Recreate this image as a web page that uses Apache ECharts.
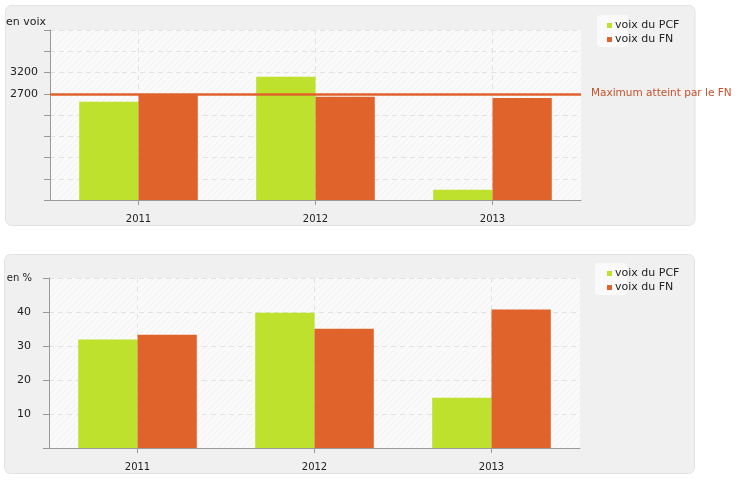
<!DOCTYPE html>
<html>
<head>
<meta charset="utf-8">
<script src="https://cdn.jsdelivr.net/npm/echarts@6/dist/echarts.min.js"></script>
<style>
html,body{margin:0;padding:0;background:#fff;}
#c{width:740px;height:487px;}
</style>
</head>
<body>
<div id="c"></div>
<script>
const categories = ['2011', '2012', '2013'];
const pcfVoix = [2510, 3100, 440];
const fnVoix = [2690, 2630, 2600];
const fnMaximum = 2700;
const voixTickLabels = [2700, 3200];
const pcfPct = [31.9, 39.8, 14.8];
const fnPct = [33.3, 35.1, 40.7];
const pctTickLabels = [10, 20, 30, 40];
const seriesNames = ['voix du PCF', 'voix du FN'];

const GREEN = '#bde12d';
const ORANGE = '#e0632c';
const FONT = 'DejaVu Sans';

// subtle diagonal hatching for the plot background
const pc = document.createElement('canvas');
pc.width = 6; pc.height = 6;
const pctx = pc.getContext('2d');
pctx.fillStyle = '#fafafa'; pctx.fillRect(0, 0, 6, 6);
pctx.strokeStyle = '#f1f1f1'; pctx.lineWidth = 1;
pctx.beginPath(); pctx.moveTo(0, 6); pctx.lineTo(6, 0); pctx.stroke();
pctx.beginPath(); pctx.moveTo(-3, 3); pctx.lineTo(3, -3); pctx.stroke();
pctx.beginPath(); pctx.moveTo(3, 9); pctx.lineTo(9, 3); pctx.stroke();
const plotBg = {image: pc, repeat: 'repeat'};

const chart = echarts.init(document.getElementById('c'), null, {renderer: 'canvas'});

function xAxisCfg(gridIndex) {
  return {
    type: 'category', gridIndex: gridIndex, data: categories,
    axisLine: {lineStyle: {color: '#999', width: 1}},
    axisTick: {show: true, alignWithLabel: true, length: 5, lineStyle: {color: '#999'}},
    axisLabel: {color: '#222', fontFamily: FONT, fontSize: 10, margin: 14},
    splitLine: {show: true, alignWithLabel: true, lineStyle: {color: '#e2e2e2', type: [5, 4]}}
  };
}

const option = {
  animation: false,
  textStyle: {fontFamily: FONT},
  graphic: [
    {type: 'rect', z: -10, shape: {x: 5.5, y: 5.5, width: 689.5, height: 220, r: 6}, style: {fill: '#f0f0f0', stroke: '#e3e3e3', lineWidth: 1}},
    {type: 'rect', z: -10, shape: {x: 4.5, y: 254.5, width: 690, height: 219, r: 6}, style: {fill: '#f0f0f0', stroke: '#e3e3e3', lineWidth: 1}},
    {type: 'rect', z: -5, shape: {x: 597, y: 15, width: 31, height: 32, r: 4}, style: {fill: '#fafafa'}},
    {type: 'rect', z: -5, shape: {x: 595, y: 263, width: 32, height: 32, r: 4}, style: {fill: '#fafafa'}}
  ],
  legend: [
    {data: seriesNames, orient: 'vertical', left: 602, top: 15, icon: 'rect', itemWidth: 5, itemHeight: 5, itemGap: 3,
      textStyle: {fontSize: 11, color: '#222', fontFamily: FONT, padding: [0, 0, 0, -2]}},
    {data: seriesNames, orient: 'vertical', left: 602, top: 263, icon: 'rect', itemWidth: 5, itemHeight: 5, itemGap: 3,
      textStyle: {fontSize: 11, color: '#222', fontFamily: FONT, padding: [0, 0, 0, -2]}}
  ],
  grid: [
    {left: 50, top: 30, width: 531, height: 170, show: true, backgroundColor: plotBg, borderWidth: 0},
    {left: 49, top: 278, width: 531, height: 170, show: true, backgroundColor: plotBg, borderWidth: 0}
  ],
  xAxis: [xAxisCfg(0), xAxisCfg(1)],
  yAxis: [
    {
      type: 'value', gridIndex: 0, min: 200, max: 4200, interval: 500,
      name: 'en voix', nameLocation: 'end', nameGap: 2,
      nameTextStyle: {align: 'right', verticalAlign: 'bottom', color: '#222', fontSize: 11, fontFamily: FONT, padding: [0, 4, 0, 0]},
      axisLine: {show: true, lineStyle: {color: '#999'}},
      axisTick: {show: true, length: 6, lineStyle: {color: '#999'}},
      axisLabel: {color: '#222', fontSize: 11, fontFamily: FONT, margin: 12,
        formatter: v => voixTickLabels.indexOf(v) >= 0 ? String(v) : ''},
      splitLine: {show: true, lineStyle: {color: '#e2e2e2', type: [5, 4]}}
    },
    {
      type: 'value', gridIndex: 1, min: 0, max: 50, interval: 10,
      name: 'en %', nameLocation: 'end', nameGap: 0,
      nameTextStyle: {align: 'right', verticalAlign: 'middle', color: '#222', fontSize: 10, fontFamily: FONT, padding: [0, 17, 0, 0]},
      axisLine: {show: true, lineStyle: {color: '#999'}},
      axisTick: {show: true, length: 6, lineStyle: {color: '#999'}},
      axisLabel: {color: '#222', fontSize: 11, fontFamily: FONT, margin: 18,
        formatter: v => pctTickLabels.indexOf(v) >= 0 ? String(v) : ''},
      splitLine: {show: true, lineStyle: {color: '#e2e2e2', type: [5, 4]}}
    }
  ],
  series: [
    {name: seriesNames[0], type: 'bar', xAxisIndex: 0, yAxisIndex: 0, data: pcfVoix, barGap: 0, barCategoryGap: '33%', itemStyle: {color: GREEN}},
    {name: seriesNames[1], type: 'bar', xAxisIndex: 0, yAxisIndex: 0, data: fnVoix, barGap: 0, barCategoryGap: '33%', itemStyle: {color: ORANGE},
      markLine: {
        silent: true, symbol: ['none', 'none'],
        data: [{yAxis: fnMaximum}],
        lineStyle: {color: ORANGE, width: 2.5, type: 'solid'},
        label: {show: true, position: 'end', distance: 10, formatter: 'Maximum atteint par le FN', color: '#c3522a', fontSize: 10.5, fontFamily: FONT}
      }},
    {name: seriesNames[0], type: 'bar', xAxisIndex: 1, yAxisIndex: 1, data: pcfPct, barGap: 0, barCategoryGap: '33%', itemStyle: {color: GREEN}},
    {name: seriesNames[1], type: 'bar', xAxisIndex: 1, yAxisIndex: 1, data: fnPct, barGap: 0, barCategoryGap: '33%', itemStyle: {color: ORANGE}}
  ]
};
chart.setOption(option);
</script>
</body>
</html>
